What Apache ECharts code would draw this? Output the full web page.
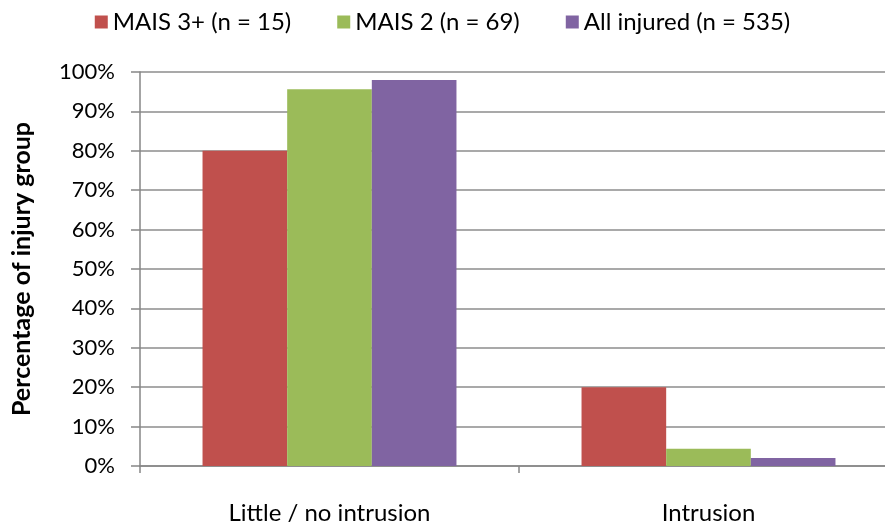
<!DOCTYPE html>
<html>
<head>
<meta charset="utf-8">
<script src="https://cdn.jsdelivr.net/npm/echarts@6/dist/echarts.min.js"></script>
<style>
  html, body { margin: 0; padding: 0; background: #fff; }
  #chart { width: 885px; height: 522px; }
</style>
</head>
<body>
<div id="chart"></div>
<script>
// Share of each injury group by intrusion level (percent)
const categories = ['Little / no intrusion', 'Intrusion'];
const seriesNames = ['MAIS 3+ (n = 15)', 'MAIS 2 (n = 69)', 'All injured (n = 535)'];
const mais3Values = [80.0, 20.0];
const mais2Values = [95.65, 4.35];
const allInjuredValues = [97.94, 2.06];
const yTicks = [0, 10, 20, 30, 40, 50, 60, 70, 80, 90, 100];

const colors = ['#C0504D', '#9BBB59', '#8064A2'];
const font = 'Lato, "Open Sans", sans-serif';

const chart = echarts.init(document.getElementById('chart'), null, { renderer: 'canvas' });

const seriesValues = [mais3Values, mais2Values, allInjuredValues];

chart.setOption({
  animation: false,
  color: colors,
  legend: {
    top: 5,
    left: 'center',
    itemWidth: 13,
    itemHeight: 13,
    itemGap: 46,
    icon: 'rect',
    textStyle: { fontFamily: font, fontSize: 24, color: '#000' },
    data: seriesNames
  },
  // plot area runs a little past the right edge of the canvas
  grid: { left: 140, width: 758, top: 72, bottom: 56, containLabel: false, outerBoundsMode: 'none' },
  xAxis: {
    type: 'category',
    data: categories,
    axisLine: { show: true, lineStyle: { color: '#868686', width: 1.5 } },
    axisTick: { show: true, alignWithLabel: false, length: 7, lineStyle: { color: '#868686', width: 1.5 } },
    axisLabel: { fontFamily: font, fontSize: 24, color: '#000', margin: 35 }
  },
  yAxis: {
    type: 'value',
    min: yTicks[0],
    max: yTicks[yTicks.length - 1],
    interval: 10,
    name: 'Percentage of injury group',
    nameLocation: 'middle',
    nameGap: 106,
    nameTextStyle: { fontFamily: font, fontSize: 25, fontWeight: 'bold', color: '#000' },
    axisLine: { show: true, lineStyle: { color: '#868686', width: 1.5 } },
    axisTick: { show: true, length: 9, lineStyle: { color: '#868686', width: 1.5 } },
    axisLabel: { fontFamily: font, fontSize: 22, color: '#000', margin: 25, formatter: v => v + '%' },
    splitLine: { show: true, lineStyle: { color: '#8C8C8C', width: 1.5 } }
  },
  series: seriesNames.map((name, i) => ({
    name,
    type: 'bar',
    data: seriesValues[i],
    barGap: '0%',
    barCategoryGap: '33%',
    itemStyle: { color: colors[i] }
  }))
});
</script>
</body>
</html>
